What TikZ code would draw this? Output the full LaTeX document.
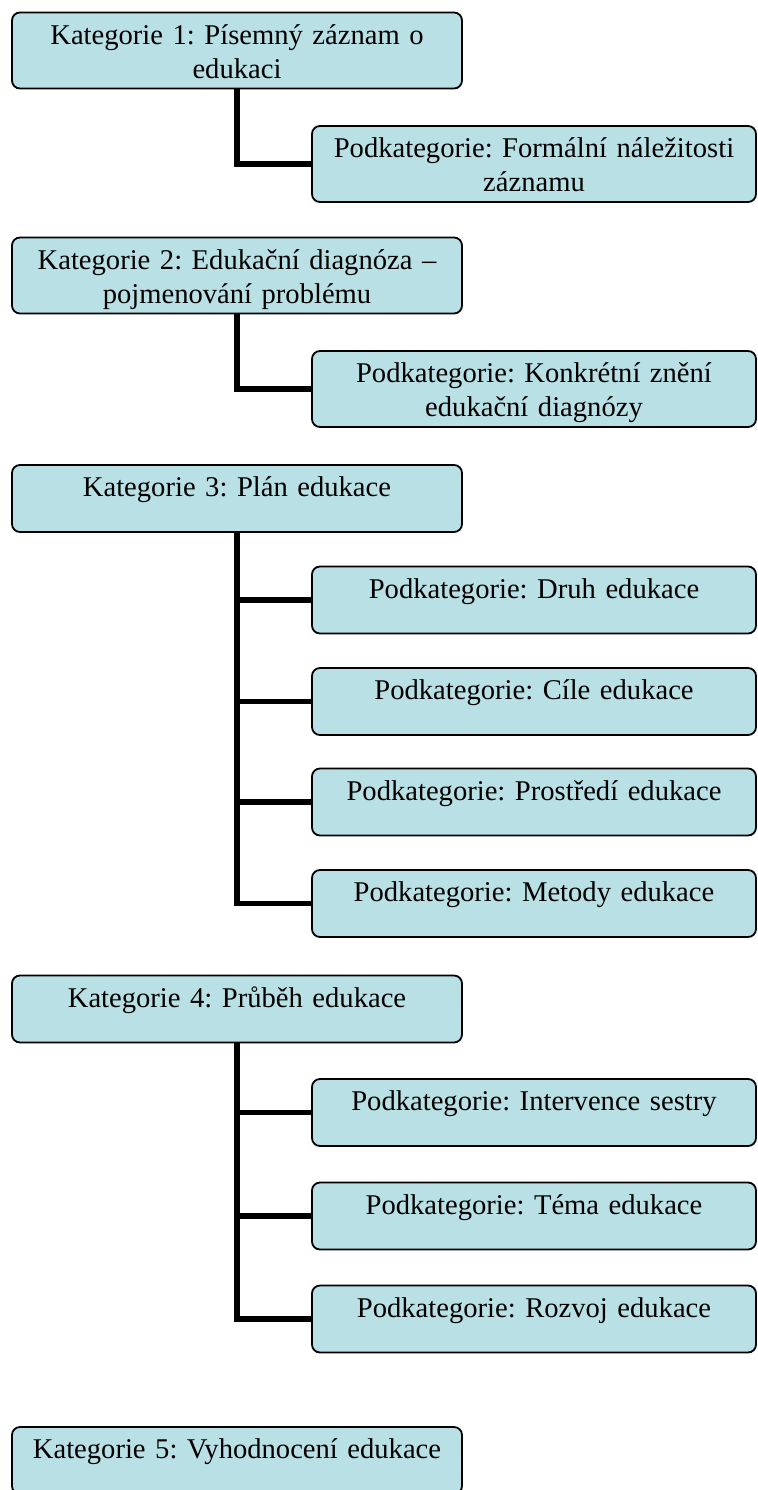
\documentclass[tikz,border=0pt]{standalone}
\usepackage{fontspec}
\setmainfont{Liberation Serif}
\definecolor{boxfill}{RGB}{185,224,229}
\frenchspacing
\begin{document}
\begin{tikzpicture}[x=0.5pt,y=-0.5pt,
    box/.style={draw,line width=0.9pt,fill=boxfill,rounded corners=4pt,inner xsep=4pt,align=center,font=\frenchspacing\fontsize{14.3}{17}\selectfont},
    cat/.style={box,text width=217pt},
    sub/.style={box,text width=214pt},
    onerow/.style={minimum height=33.5pt,text height=10pt,text depth=12pt},
    tworow/.style={minimum height=38pt,text height=10pt,text depth=16.5pt},
    link/.style={line width=2.75pt}]
    \useasboundingbox (0,0) rectangle (757,1490);
    % categories
    \node[cat,tworow] (k1) at (237,50.5) {Kategorie 1: Písemný záznam o\\edukaci};
    \node[cat,tworow] (k2) at (237,275.5) {Kategorie 2: Edukační diagnóza –\\pojmenování problému};
    \node[cat,onerow] (k3) at (237,498.5) {Kategorie 3: Plán edukace};
    \node[cat,onerow] (k4) at (237,1009) {Kategorie 4: Průběh edukace};
    \node[cat,onerow] (k5) at (237,1460.5) {Kategorie 5: Vyhodnocení edukace};
    % subcategories
    \node[sub,tworow] (p1) at (534,164) {Podkategorie: Formální náležitosti\\záznamu};
    \draw[link] (k1.south) |- (p1.west);
    \node[sub,tworow] (p2) at (534,389) {Podkategorie: Konkrétní znění\\edukační diagnózy};
    \draw[link] (k2.south) |- (p2.west);
    \foreach \nm/\yy/\txt in {p3a/600/Druh edukace,p3b/701.5/Cíle edukace,p3c/802/Prostředí edukace,p3d/903.5/Metody edukace} {
        \node[sub,onerow] (\nm) at (534,\yy) {Podkategorie: \txt};
        \draw[link] (k3.south) |- (\nm.west);
    }
    \foreach \nm/\yy/\txt in {p4a/1112.5/Intervence sestry,p4b/1216/Téma edukace,p4c/1319/Rozvoj edukace} {
        \node[sub,onerow] (\nm) at (534,\yy) {Podkategorie: \txt};
        \draw[link] (k4.south) |- (\nm.west);
    }
\end{tikzpicture}
\end{document}
